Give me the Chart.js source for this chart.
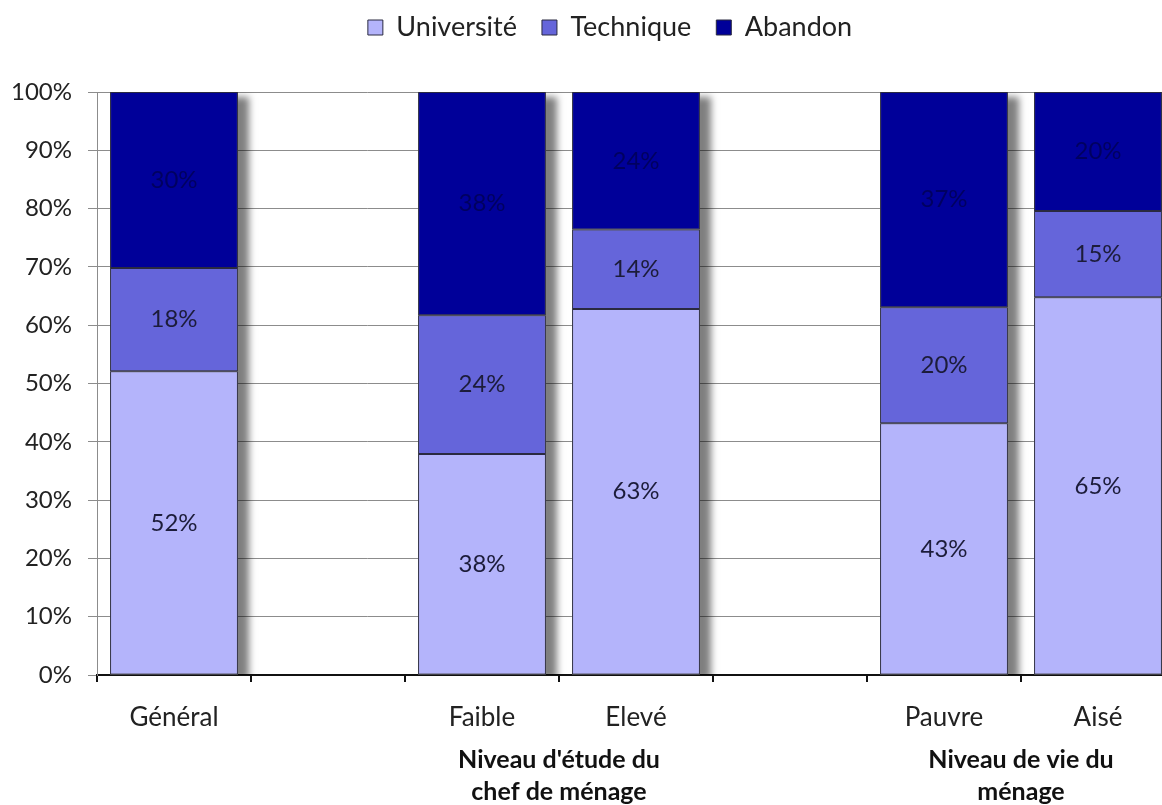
<!DOCTYPE html>
<html>
<head>
<meta charset="utf-8">
<script src="https://cdn.jsdelivr.net/npm/chart.js@4.4.0/dist/chart.umd.min.js"></script>
<style>
  html, body { margin: 0; padding: 0; background: #fff; overflow: hidden; }
  #wrap { width: 1180px; height: 805px; }
</style>
</head>
<body>
<div id="wrap"><canvas id="graphique" width="1180" height="805"></canvas></div>
<script>
// categories (vides = espaces entre groupes)
const categories = ['Général', '', 'Faible', 'Elevé', '', 'Pauvre', 'Aisé'];
const universite = [52.1, null, 37.9, 62.8, null, 43.2, 64.8];
const technique  = [17.7, null, 23.8, 13.6, null, 19.9, 14.8];
const abandon    = [30.2, null, 38.3, 23.6, null, 36.9, 20.4];
const seriesNames = ['Université', 'Technique', 'Abandon'];
const groupLabels = [["Niveau d'étude du", 'chef de ménage'], ['Niveau de vie du', 'ménage']];
const groupSpans = [[2, 3], [5, 6]];

const police = 'Lato, "Open Sans", sans-serif';

// ombre grise a droite des barres
const ombrePlugin = {
  id: 'ombre',
  beforeDatasetsDraw(chart) {
    const ctx = chart.ctx;
    const area = chart.chartArea;
    const bas = chart.getDatasetMeta(0).data;
    const haut = chart.getDatasetMeta(2).data;
    ctx.save();
    ctx.beginPath();
    ctx.rect(area.left, area.top, area.right - area.left, area.bottom - area.top);
    ctx.clip();
    ctx.shadowColor = 'rgba(0,0,0,0.5)';
    ctx.shadowBlur = 7;
    ctx.shadowOffsetX = 11;
    ctx.shadowOffsetY = 5;
    ctx.fillStyle = '#888';
    categories.forEach((c, i) => {
      if (universite[i] == null) return;
      const b = bas[i], h = haut[i];
      ctx.fillRect(b.x - b.width / 2, h.y, b.width, b.base - h.y);
    });
    ctx.restore();
  }
};

// pourcentages dans les barres
const etiquettesPlugin = {
  id: 'etiquettes',
  afterDatasetsDraw(chart) {
    const ctx = chart.ctx;
    ctx.save();
    ctx.font = '24px ' + police;
    ctx.textAlign = 'center';
    ctx.textBaseline = 'middle';
    chart.data.datasets.forEach((ds, d) => {
      const meta = chart.getDatasetMeta(d);
      ctx.fillStyle = d === 2 ? '#000060' : '#1c1c3a';
      meta.data.forEach((el, i) => {
        const v = ds.data[i];
        if (v == null) return;
        ctx.fillText(Math.round(v) + '%', el.x, (el.y + el.base) / 2);
      });
    });
    ctx.restore();
  }
};

// titres des groupes sous l'axe
const groupesPlugin = {
  id: 'groupes',
  afterDraw(chart) {
    const ctx = chart.ctx;
    const x = chart.scales.x;
    ctx.save();
    ctx.font = 'bold 25px ' + police;
    ctx.fillStyle = '#111';
    ctx.textAlign = 'center';
    ctx.textBaseline = 'middle';
    groupLabels.forEach((lignes, g) => {
      const cx = (x.getPixelForValue(groupSpans[g][0]) + x.getPixelForValue(groupSpans[g][1])) / 2;
      lignes.forEach((t, k) => ctx.fillText(t, cx, 760 + k * 32));
    });
    ctx.restore();
  }
};

const legendePlugin = {
  id: 'legende',
  beforeInit(chart) {
    const fit = chart.legend.fit;
    chart.legend.fit = function () {
      fit.bind(chart.legend)();
      this.height = 92;
    };
  },
  beforeDraw(chart) {
    chart.legend.top = -11;
    chart.legend.left = 45;
  }
};

new Chart(document.getElementById('graphique'), {
  type: 'bar',
  data: {
    labels: categories,
    datasets: [
      { label: seriesNames[0], data: universite, backgroundColor: '#b4b4fb' },
      { label: seriesNames[1], data: technique, backgroundColor: '#6565da' },
      { label: seriesNames[2], data: abandon, backgroundColor: '#000099' }
    ].map(ds => Object.assign(ds, {
      borderColor: '#2a2a40',
      borderWidth: 1,
      borderSkipped: false,
      categoryPercentage: 1,
      barPercentage: 0.83
    }))
  },
  options: {
    responsive: false,
    animation: false,
    layout: { padding: { left: 0, right: 5, top: 0, bottom: 0 } },
    plugins: {
      legend: {
        position: 'top',
        labels: {
          boxWidth: 15,
          boxHeight: 15,
          padding: 25,
          color: '#222',
          font: { family: police, size: 27 }
        }
      },
      tooltip: { enabled: false }
    },
    scales: {
      x: {
        stacked: true,
        afterFit(s) { s.height = 130; },
        grid: { drawOnChartArea: false, tickLength: 7, color: '#111', lineWidth: 2 },
        border: { color: '#111', width: 2 },
        ticks: { color: '#222', padding: 20, font: { family: police, size: 26 } }
      },
      y: {
        stacked: true,
        min: 0,
        max: 100,
        afterFit(s) { s.width = 97; },
        grid: { color: '#8c8c8c', tickLength: 9 },
        border: { color: '#8c8c8c', width: 1 },
        ticks: {
          stepSize: 10,
          padding: 16,
          color: '#222',
          font: { family: police, size: 24 },
          callback: v => v + '%'
        }
      }
    }
  },
  plugins: [ombrePlugin, etiquettesPlugin, groupesPlugin, legendePlugin]
});
</script>
</body>
</html>
